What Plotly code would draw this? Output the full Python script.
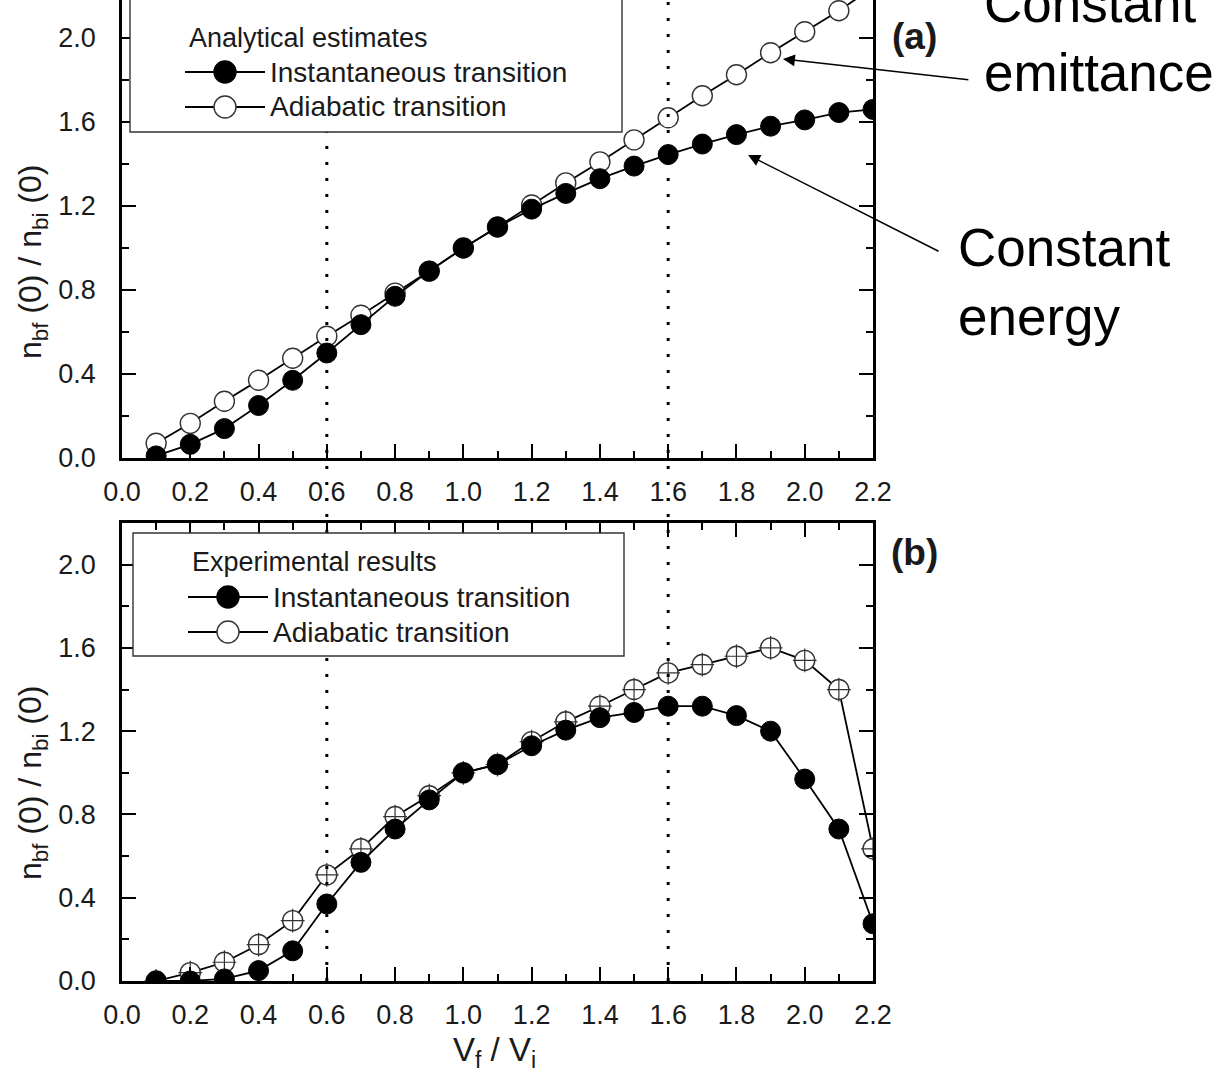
import plotly.graph_objects as go

# Ratio of final to initial confining potential
v_ratio = [0.1, 0.2, 0.3, 0.4, 0.5, 0.6, 0.7, 0.8, 0.9, 1.0, 1.1,
           1.2, 1.3, 1.4, 1.5, 1.6, 1.7, 1.8, 1.9, 2.0, 2.1, 2.2]

# (a) analytical estimates of n_bf(0)/n_bi(0)
analytic_instant = [0.01, 0.065, 0.14, 0.25, 0.37, 0.50, 0.635, 0.77, 0.89, 1.0, 1.10,
                    1.185, 1.26, 1.33, 1.39, 1.445, 1.495, 1.54, 1.58, 1.61, 1.645, 1.66]
analytic_adiabatic = [0.07, 0.165, 0.27, 0.37, 0.475, 0.58, 0.68, 0.785, 0.89, 1.0, 1.10,
                      1.205, 1.31, 1.41, 1.515, 1.62, 1.725, 1.825, 1.93, 2.03, 2.13, 2.24]

# (b) experimental results
exp_instant = [0.0, 0.0, 0.01, 0.05, 0.145, 0.37, 0.57, 0.73, 0.87, 1.0, 1.04,
               1.13, 1.205, 1.265, 1.29, 1.32, 1.32, 1.275, 1.20, 0.97, 0.73, 0.275]
exp_adiabatic = [0.0, 0.04, 0.09, 0.175, 0.29, 0.51, 0.635, 0.79, 0.89, 1.0, 1.04,
                 1.15, 1.245, 1.32, 1.40, 1.48, 1.52, 1.56, 1.60, 1.54, 1.40, 0.635]

marked_ratios = [0.6, 1.6]
x_ticks = [0.0, 0.2, 0.4, 0.6, 0.8, 1.0, 1.2, 1.4, 1.6, 1.8, 2.0, 2.2]
y_ticks = [0.0, 0.4, 0.8, 1.2, 1.6, 2.0]

legend_a_title = "Analytical estimates"
legend_b_title = "Experimental results"
series_names = ["Instantaneous transition", "Adiabatic transition"]

FONT = "Liberation Sans, Arial, sans-serif"
TXT = "#1a1a1a"
W, H = 1226, 1092
ML, MR, MT, MB = 122, 353, 0, 111
PW, PH = W - ML - MR, H - MT - MB


def px_x(p):
    return (p - ML) / PW


def px_y(p):
    return (H - MB - p) / PH


MS = 20
filled = dict(symbol="circle", size=MS, color="black", line=dict(color="black", width=1))
hollow = dict(symbol="circle", size=MS, color="white", line=dict(color="#333333", width=1.4))
line_style = dict(color="black", width=1.8)

fig = go.Figure()

# panel (a)
fig.add_trace(go.Scatter(x=v_ratio, y=analytic_adiabatic, mode="lines+markers",
                         name=series_names[1], marker=hollow, line=line_style,
                         xaxis="x", yaxis="y"))
fig.add_trace(go.Scatter(x=v_ratio, y=analytic_instant, mode="lines+markers",
                         name=series_names[0], marker=filled, line=line_style,
                         xaxis="x", yaxis="y"))

# panel (b)
fig.add_trace(go.Scatter(x=v_ratio, y=exp_adiabatic, mode="lines+markers",
                         name=series_names[1], marker=hollow, line=line_style,
                         xaxis="x2", yaxis="y2"))
fig.add_trace(go.Scatter(x=v_ratio, y=exp_adiabatic, mode="markers",
                         marker=dict(symbol="cross-thin", size=MS - 3,
                                     line=dict(color="#333333", width=1.2)),
                         xaxis="x2", yaxis="y2"))
fig.add_trace(go.Scatter(x=v_ratio, y=exp_instant, mode="lines+markers",
                         name=series_names[0], marker=filled, line=line_style,
                         xaxis="x2", yaxis="y2"))

axis_common = dict(
    showline=True, linecolor="black", linewidth=2.5,
    ticks="inside", tickcolor="black", tickwidth=2,
    showgrid=False, zeroline=False,
    tickfont=dict(family=FONT, size=27, color=TXT),
)

xa = dict(axis_common, range=[0, 2.2], tickvals=x_ticks, tickformat=".1f", ticklen=14,
          ticklabelstandoff=8,
          minor=dict(dtick=0.1, ticklen=7, tickwidth=2, tickcolor="black", ticks="inside"))
ya = dict(axis_common, tickvals=y_ticks, tickformat=".1f", ticklen=14, mirror="allticks",
          ticklabelstandoff=18,
          minor=dict(dtick=0.2, ticklen=7, tickwidth=2, tickcolor="black", ticks="inside"))

top_px, top_bottom_px = 0, 458
bot_top_px, bot_bottom_px = 523, 981

fig.update_layout(
    width=W, height=H,
    margin=dict(l=ML, r=MR, t=MT, b=MB),
    paper_bgcolor="white", plot_bgcolor="white",
    showlegend=False,
    xaxis=dict(xa, anchor="y", domain=[0, 1]),
    yaxis=dict(ya, anchor="x", domain=[px_y(top_bottom_px), 1],
               range=[0, (top_bottom_px - top_px) / 210.0]),
    xaxis2=dict(xa, anchor="y2", domain=[0, 1], mirror="allticks"),
    yaxis2=dict(ya, anchor="x2", domain=[0, px_y(bot_top_px)], range=[0, 2.2]),
)

# dotted reference lines at the marked potential ratios, through both panels
for xv in marked_ratios:
    fig.add_shape(type="line", xref="x", yref="paper", x0=xv, x1=xv, y0=0, y1=1,
                  line=dict(color="black", width=3, dash="3px,13px"))


# framed keys inside each panel
def draw_key(left, right, top, bottom, title, rows_y, title_y):
    fig.add_shape(type="rect", xref="paper", yref="paper",
                  x0=px_x(left), x1=px_x(right), y0=px_y(bottom), y1=px_y(top),
                  line=dict(color="#333333", width=1.4), fillcolor="white", layer="above")
    fig.add_annotation(text=title, x=px_x(left + 57), y=px_y(title_y), xref="paper",
                       yref="paper", xanchor="left", yanchor="middle", showarrow=False,
                       font=dict(family=FONT, size=27, color=TXT))
    for i, (name, yy) in enumerate(zip(series_names, rows_y)):
        x_a, x_b = left + 55, left + 135
        xc = (x_a + x_b) / 2
        fig.add_shape(type="line", xref="paper", yref="paper",
                      x0=px_x(x_a), x1=px_x(x_b), y0=px_y(yy), y1=px_y(yy),
                      line=dict(color="black", width=2.2), layer="above")
        r = 11
        fig.add_shape(type="circle", xref="paper", yref="paper",
                      x0=px_x(xc - r), x1=px_x(xc + r), y0=px_y(yy + r), y1=px_y(yy - r),
                      fillcolor="black" if i == 0 else "white",
                      line=dict(color="black" if i == 0 else "#333333", width=1.4),
                      layer="above")
        fig.add_annotation(text=name, x=px_x(x_b + 3), y=px_y(yy), xref="paper",
                           yref="paper", xanchor="left", yanchor="middle", showarrow=False,
                           font=dict(family=FONT, size=28, color=TXT))


draw_key(130, 622, -6, 132, legend_a_title, [72, 107], 38)
draw_key(133, 624, 533, 656, legend_b_title, [597, 632], 562)

ytitle = "n<sub>bf</sub> (0) / n<sub>bi</sub> (0)"
annotations = [
    dict(text=ytitle, x=px_x(32), y=px_y(262), textangle=-90),
    dict(text=ytitle, x=px_x(32), y=px_y(783), textangle=-90),
    dict(text="V<sub>f</sub> / V<sub>i</sub>", x=px_x(494), y=px_y(1052),
         font=dict(family=FONT, size=33, color=TXT)),
    dict(text="<b>(a)</b>", x=px_x(914), y=px_y(36),
         font=dict(family=FONT, size=37, color=TXT)),
    dict(text="<b>(b)</b>", x=px_x(914), y=px_y(553),
         font=dict(family=FONT, size=37, color=TXT)),
    dict(text="Constant<br>emittance", x=px_x(982), y=px_y(38), xanchor="left",
         align="left", font=dict(family=FONT, size=53, color="black")),
    dict(text="Constant<br>energy", x=px_x(956), y=px_y(282), xanchor="left",
         align="left", font=dict(family=FONT, size=53, color="black")),
]
for a in annotations:
    a.setdefault("xref", "paper")
    a.setdefault("yref", "paper")
    a.setdefault("showarrow", False)
    a.setdefault("xanchor", "center")
    a.setdefault("yanchor", "middle")
    a.setdefault("font", dict(family=FONT, size=32, color=TXT))
    fig.add_annotation(**a)

# arrows from the labels to the analytical curves
fig.add_annotation(x=1.936, y=1.90, xref="x", yref="y", text="", showarrow=True,
                   ax=187, ay=21, arrowhead=2, arrowsize=1.6, arrowwidth=1.5,
                   arrowcolor="black", standoff=0)
fig.add_annotation(x=1.834, y=1.443, xref="x", yref="y", text="", showarrow=True,
                   ax=192, ay=97, arrowhead=2, arrowsize=1.6, arrowwidth=1.5,
                   arrowcolor="black", standoff=0)

fig.write_html("out.html")
